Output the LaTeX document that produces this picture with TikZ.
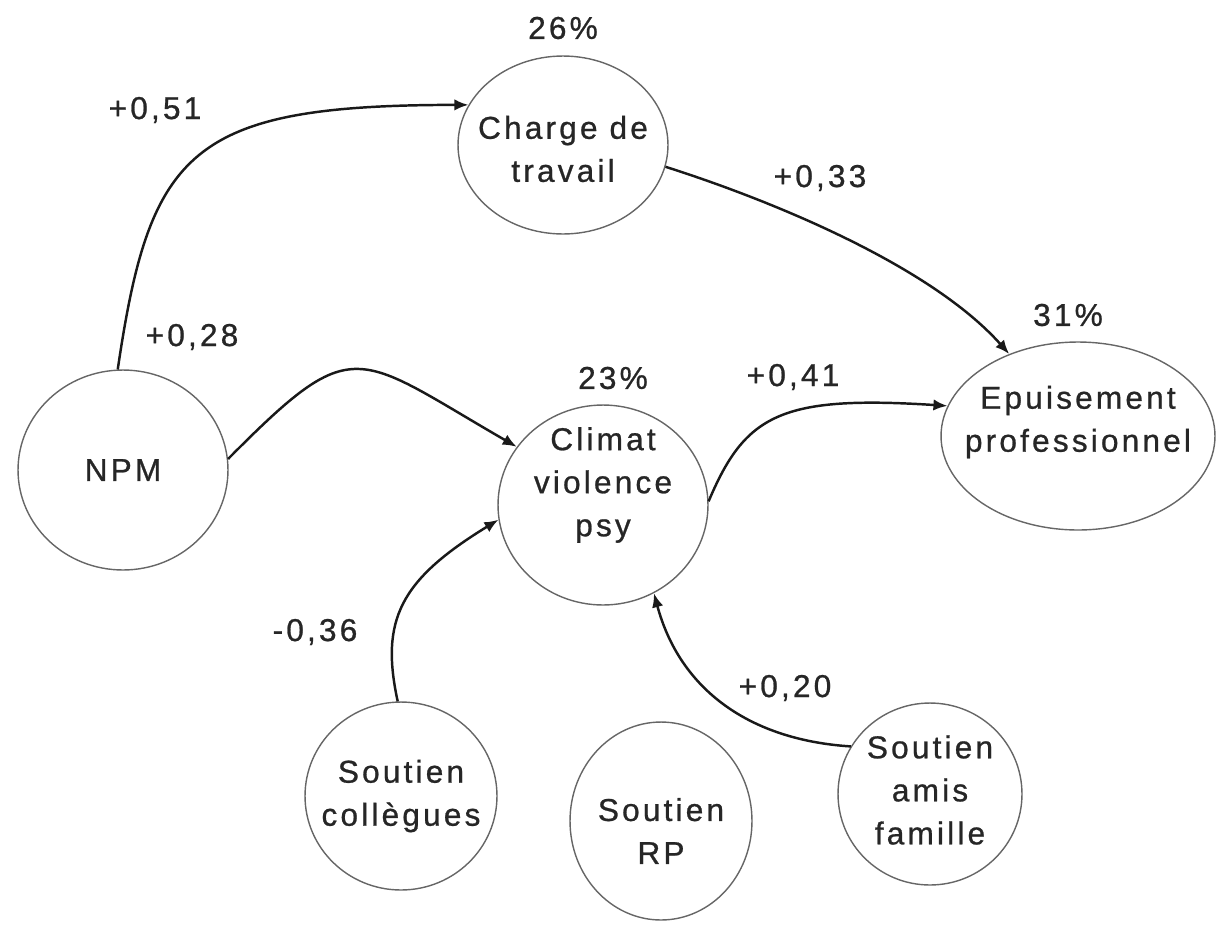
\documentclass[tikz,border=0pt]{standalone}
\usepackage{fontspec}
\setmainfont{Liberation Sans}[LetterSpace=10,FakeBold=0.8]
\usetikzlibrary{shapes.geometric,arrows.meta}
\begin{document}
\begin{tikzpicture}[x=0.02cm,y=-0.02cm,
  var/.style={ellipse, draw=black!60, line width=0.8pt, inner sep=0pt},
  txt/.style={font=\fontsize{18}{24.5}\selectfont, align=center, inner sep=0pt, text=black!85},
  num/.style={font=\fontsize{18}{24.5}\selectfont, inner sep=0pt, text=black!85},
  conn/.style={line width=1.4pt, black!90, -{Latex[length=8pt,width=6.5pt]}},
]
\useasboundingbox (0,0) rectangle (1220,927);

\node[var, minimum width=4.2cm, minimum height=3.56cm,
  label={[txt, yshift=-0.08cm]center:Charge de\\travail}] (charge) at (563,145) {};
\node[var, minimum width=4.2cm, minimum height=4.0cm,
  label={[txt]center:NPM}] (npm) at (123,470) {};
\node[var, minimum width=4.2cm, minimum height=4.0cm,
  label={[txt, yshift=0.4cm]center:Climat\\violence\\psy}] (climat) at (603,505) {};
\node[var, minimum width=5.48cm, minimum height=3.76cm,
  label={[txt, yshift=0.28cm]center:Epuisement\\professionnel}] (epuis) at (1078,436) {};
\node[var, minimum width=3.84cm, minimum height=3.76cm,
  label={[txt]center:Soutien\\collègues}] (coll) at (401,796) {};
\node[var, minimum width=3.64cm, minimum height=3.96cm,
  label={[txt, yshift=-0.2cm]center:Soutien\\RP}] (rp) at (661,821) {};
\node[var, minimum width=3.68cm, minimum height=3.64cm,
  label={[txt, yshift=0.08cm]center:Soutien\\amis\\famille}] (amis) at (930,794) {};

\node[num] (p26) at (563,28) {26\%};
\node[num] (p31) at (1068,315) {31\%};
\node[num] (p23) at (613,378) {23\%};
\node[num] (c51) at (155,110) {+0,51};
\node[num] (c33) at (820,178) {+0,33};
\node[num] (c28) at (192,337) {+0,28};
\node[num] (c41) at (793,377) {+0,41};
\node[num] (c36) at (315,632) {-0,36};
\node[num] (c20) at (785,688) {+0,20};

\draw[conn] (npm.93) .. controls (150,150) and (190,105) .. (charge.157);
\draw[conn] (npm.6) .. controls (355,331) and (354,353) .. (climat.146);
\draw[conn] (charge.-12) .. controls (770,200) and (930,265) .. (epuis.130);
\draw[conn] (climat.2) .. controls (745,415) and (780,395) .. (epuis.167);
\draw[conn] (coll.92) .. controls (380,620) and (400,580) .. (climat.188);
\draw[conn] (amis.149) .. controls (750,740) and (680,690) .. (climat.-60);
\end{tikzpicture}
\end{document}
